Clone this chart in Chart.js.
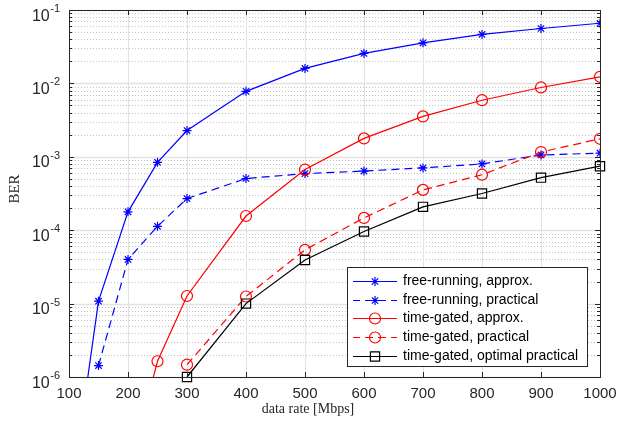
<!DOCTYPE html>
<html>
<head>
<meta charset="utf-8">
<script src="https://cdn.jsdelivr.net/npm/chart.js@4.4.1/dist/chart.umd.min.js"></script>
<style>
  html, body { margin: 0; padding: 0; background: #fff; }
  canvas { display: block; }
</style>
</head>
<body>
<canvas id="ber-chart" width="618" height="428"></canvas>
<script>
// x ticks (data rate, Mbps) and y decades (BER = 10^exp)
const rateTicks = [100, 200, 300, 400, 500, 600, 700, 800, 900, 1000];
const berExponents = [-6, -5, -4, -3, -2, -1];

const legendLabels = [
  'free-running, approx.',
  'free-running, practical',
  'time-gated, approx.',
  'time-gated, practical',
  'time-gated, optimal practical'
];

// free-running, approx. (first point sits below the axis and gets clipped)
const freeApproxRate = [100, 150, 200, 250, 300, 400, 500, 600, 700, 800, 900, 1000];
const freeApproxBer = [1.5e-8, 1.08e-5, 1.78e-4, 8.4e-4, 2.28e-3, 7.8e-3, 1.6e-2, 2.56e-2, 3.57e-2, 4.65e-2, 5.6e-2, 6.6e-2];

// free-running, practical
const freePracRate = [150, 200, 250, 300, 400, 500, 600, 700, 800, 900, 1000];
const freePracBer = [1.43e-6, 4.0e-5, 1.13e-4, 2.7e-4, 5.06e-4, 5.9e-4, 6.4e-4, 7.06e-4, 8.0e-4, 1.06e-3, 1.12e-3];

// time-gated, approx. (200 Mbps point is below the axis)
const gatedApproxRate = [200, 250, 300, 400, 500, 600, 700, 800, 900, 1000];
const gatedApproxBer = [4.8e-8, 1.64e-6, 1.27e-5, 1.56e-4, 6.7e-4, 1.78e-3, 3.55e-3, 5.9e-3, 8.8e-3, 1.23e-2];

// time-gated, practical
const gatedPracRate = [300, 400, 500, 600, 700, 800, 900, 1000];
const gatedPracBer = [1.47e-6, 1.25e-5, 5.4e-5, 1.47e-4, 3.54e-4, 5.7e-4, 1.16e-3, 1.76e-3];

// time-gated, optimal practical
const optimalRate = [300, 400, 500, 600, 700, 800, 900, 1000];
const optimalBer = [1.0e-6, 1.0e-5, 3.93e-5, 9.6e-5, 2.08e-4, 3.16e-4, 5.2e-4, 7.45e-4];

const toPoints = (xs, ys) => xs.map((x, i) => ({ x, y: ys[i] }));

const AXIS_COLOR = '#262626';
const TICK_FONT = '15px "Liberation Sans", Arial, sans-serif';
const LINE_W = 1.2;

const series = [
  { rate: freeApproxRate, ber: freeApproxBer, color: '#0000ff', dash: [], style: 'star', radius: 4.5 },
  { rate: freePracRate, ber: freePracBer, color: '#0000ff', dash: [8, 5], style: 'star', radius: 4.5 },
  { rate: gatedApproxRate, ber: gatedApproxBer, color: '#ff0000', dash: [], style: 'circle', radius: 5.5 },
  { rate: gatedPracRate, ber: gatedPracBer, color: '#ff0000', dash: [8, 5], style: 'circle', radius: 5.5 },
  { rate: optimalRate, ber: optimalBer, color: '#000000', dash: [], style: 'rect', radius: 6.5 }
];

const datasets = series.map((s, i) => ({
  label: legendLabels[i],
  data: toPoints(s.rate, s.ber),
  borderColor: s.color,
  backgroundColor: 'rgba(0,0,0,0)',
  borderWidth: LINE_W,
  borderDash: s.dash,
  pointStyle: s.style,
  pointRadius: s.radius,
  pointBorderColor: s.color,
  pointBackgroundColor: 'rgba(0,0,0,0)',
  pointBorderWidth: LINE_W,
  tension: 0,
  order: series.length - i,
  clip: i === 4 ? false : undefined
}));

// 2..9 x 10^exp for the minor grid / minor ticks
function minorValues() {
  const vals = [];
  for (let e = -6; e < -1; e++) {
    for (let m = 2; m <= 9; m++) vals.push(m * Math.pow(10, e));
  }
  return vals;
}

function hLine(ctx, x0, x1, y) {
  ctx.beginPath();
  ctx.moveTo(x0, y);
  ctx.lineTo(x1, y);
  ctx.stroke();
}

function vLine(ctx, x, y0, y1) {
  ctx.beginPath();
  ctx.moveTo(x, y0);
  ctx.lineTo(x, y1);
  ctx.stroke();
}

const matlabAxes = {
  id: 'matlabAxes',
  beforeDatasetsDraw(chart) {
    const { ctx, chartArea: { left, right, top, bottom }, scales: { x, y } } = chart;
    ctx.save();
    ctx.lineWidth = 1;

    // minor dotted grid
    ctx.strokeStyle = '#c4c4c4';
    ctx.setLineDash([1, 2]);
    minorValues().forEach(v => {
      const py = Math.round(y.getPixelForValue(v)) + 0.5;
      hLine(ctx, left, right, py);
    });

    // major grid
    ctx.setLineDash([]);
    ctx.strokeStyle = '#e2e2e2';
    rateTicks.forEach(r => {
      const px = Math.round(x.getPixelForValue(r)) + 0.5;
      vLine(ctx, px, top, bottom);
    });
    ctx.lineWidth = 1.5;
    berExponents.forEach(e => {
      const py = Math.round(y.getPixelForValue(Math.pow(10, e))) + 0.5;
      hLine(ctx, left, right, py);
    });
    ctx.restore();
  },
  afterDatasetsDraw(chart) {
    const { ctx, chartArea: { left, right, top, bottom }, scales: { x, y } } = chart;
    ctx.save();
    ctx.strokeStyle = AXIS_COLOR;
    ctx.lineWidth = 1;
    ctx.strokeRect(Math.round(left) + 0.5, Math.round(top) + 0.5,
      Math.round(right - left), Math.round(bottom - top));

    // inward tick marks on all four sides
    rateTicks.forEach(r => {
      const px = Math.round(x.getPixelForValue(r)) + 0.5;
      vLine(ctx, px, bottom, bottom - 5);
      vLine(ctx, px, top, top + 5);
    });
    berExponents.forEach(e => {
      const py = Math.round(y.getPixelForValue(Math.pow(10, e))) + 0.5;
      hLine(ctx, left, left + 5, py);
      hLine(ctx, right, right - 5, py);
    });
    minorValues().forEach(v => {
      const py = Math.round(y.getPixelForValue(v)) + 0.5;
      hLine(ctx, left, left + 3, py);
      hLine(ctx, right, right - 3, py);
    });

    // x tick labels
    ctx.fillStyle = AXIS_COLOR;
    ctx.font = TICK_FONT;
    ctx.textAlign = 'center';
    ctx.textBaseline = 'middle';
    rateTicks.forEach(r => {
      ctx.fillText(String(r), x.getPixelForValue(r), bottom + 17);
    });

    // y tick labels as 10^exp
    ctx.textBaseline = 'alphabetic';
    berExponents.forEach(e => {
      const py = y.getPixelForValue(Math.pow(10, e));
      const sup = String(e);
      ctx.font = '11px "Liberation Sans", Arial, sans-serif';
      const supW = ctx.measureText(sup).width;
      const edge = left - 9;
      ctx.textAlign = 'left';
      ctx.fillText(sup, edge - supW, py + 2);
      ctx.font = '16px "Liberation Sans", Arial, sans-serif';
      ctx.textAlign = 'right';
      ctx.fillText('10', edge - supW - 0.5, py + 10.5);
    });

    // axis titles
    ctx.fillStyle = AXIS_COLOR;
    ctx.font = '14px "Liberation Serif", "Times New Roman", serif';
    ctx.textAlign = 'center';
    ctx.textBaseline = 'middle';
    ctx.fillText('data rate [Mbps]', 308, 409);
    ctx.save();
    ctx.translate(15, 189);
    ctx.rotate(-Math.PI / 2);
    ctx.font = '15px "Liberation Serif", "Times New Roman", serif';
    ctx.fillText('BER', 0, 0);
    ctx.restore();
    ctx.restore();
  },
  afterDraw(chart) {
    const { ctx } = chart;
    const box = { x: 347.5, y: 267.5, w: 240, h: 99 };
    ctx.save();
    ctx.fillStyle = '#ffffff';
    ctx.fillRect(box.x, box.y, box.w, box.h);
    ctx.strokeStyle = AXIS_COLOR;
    ctx.lineWidth = 1;
    ctx.strokeRect(box.x, box.y, box.w, box.h);

    ctx.font = '14px "Liberation Sans", Arial, sans-serif';
    ctx.textAlign = 'left';
    ctx.textBaseline = 'middle';
    series.forEach((s, i) => {
      const ly = Math.round(281 + i * 18.7) + 0.5;
      ctx.strokeStyle = s.color;
      ctx.lineWidth = LINE_W;
      ctx.setLineDash(s.dash);
      ctx.lineDashOffset = s.dash.length ? 1 : 0;
      hLine(ctx, 353, 397, ly);
      ctx.setLineDash([]);
      ctx.fillStyle = 'rgba(0,0,0,0)';
      Chart.helpers.drawPoint(ctx, {
        pointStyle: s.style, radius: s.radius, rotation: 0, borderWidth: LINE_W
      }, 375, ly);
      ctx.fillStyle = '#000000';
      ctx.fillText(legendLabels[i], 403, ly);
    });
    ctx.restore();
  }
};

new Chart(document.getElementById('ber-chart'), {
  type: 'line',
  data: { datasets },
  options: {
    responsive: false,
    animation: false,
    devicePixelRatio: 1,
    layout: { padding: { left: 69, right: 18, top: 10, bottom: 51 } },
    plugins: {
      legend: { display: false },
      tooltip: { enabled: false }
    },
    scales: {
      x: { type: 'linear', min: 100, max: 1000, display: false },
      y: { type: 'logarithmic', min: 1e-6, max: 1e-1, display: false }
    }
  },
  plugins: [matlabAxes]
});
</script>
</body>
</html>
